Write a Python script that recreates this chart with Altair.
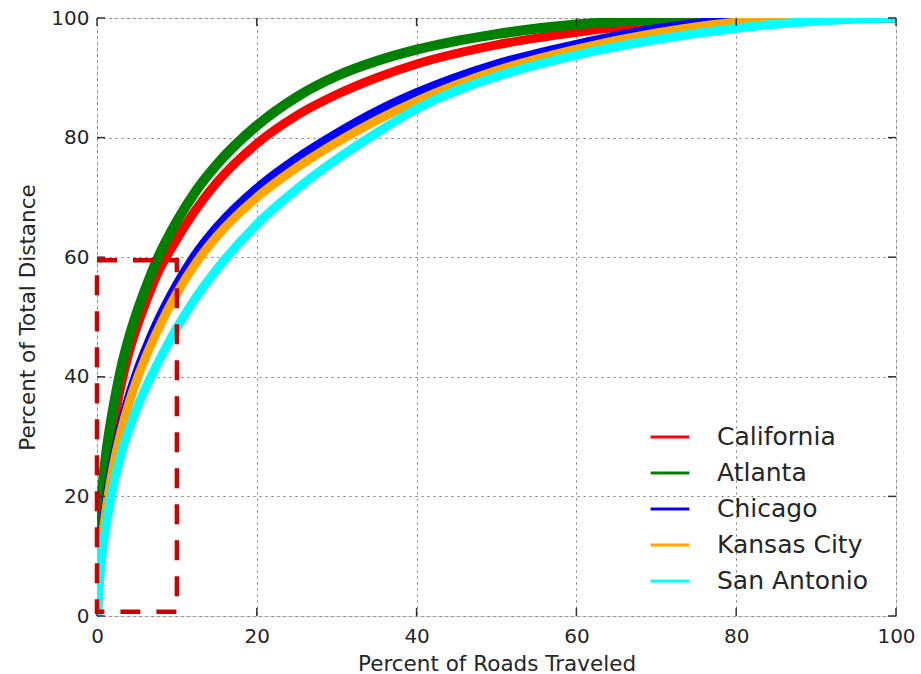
import altair as alt
import pandas as pd

# ---- data ----
x_vals = [0, 0.3, 0.6, 1, 1.5, 2, 3, 4, 5, 6, 7.5, 10, 12.5, 15, 20, 25, 30, 35, 40, 50, 60, 70, 80, 90, 100]
california = [0, 10, 17, 22.5, 27.5, 31.5, 38.5, 44, 48.3, 52, 57, 63, 68.2, 72.5, 79, 83.7, 87.2, 90, 92.3, 95.5, 97.6, 99.1, 99.8, 100, 100]
atlanta = [0, 12, 20, 25.5, 30.5, 34.5, 41.3, 46.5, 50.8, 54.5, 59.5, 66, 71.3, 75.5, 82, 86.8, 90.3, 92.8, 94.7, 97.3, 98.9, 99.7, 100, 100, 100]
chicago = [0, 7.5, 13, 17.5, 22, 25.8, 31.8, 36.7, 40.8, 44.3, 49, 55.5, 60.8, 65, 71.5, 76.5, 80.7, 84.4, 87.5, 92.3, 95.6, 98.2, 99.7, 100, 100]
kansas_city = [0, 6.5, 12, 16.5, 21, 24.8, 30.8, 35.6, 39.6, 43, 47.5, 54, 59.25, 63.5, 70, 75, 79.2, 82.9, 86.1, 91.2, 94.8, 97.5, 99.3, 99.9, 100]
san_antonio = [0, 5.5, 10, 14, 18, 21.5, 27, 31.2, 34.8, 37.9, 42, 48.2, 53.5, 58, 65.5, 71.4, 76.4, 80.8, 84.8, 90.2, 93.8, 96.4, 98.3, 99.5, 100]

series_names = ["California", "Atlanta", "Chicago", "Kansas City", "San Antonio"]
series_values = [california, atlanta, chicago, kansas_city, san_antonio]
series_colors = ["#ff0000", "#008000", "#0000ff", "#ffa500", "#00ffff"]
series_widths = [9, 10, 9, 9, 9]

tick_values = [0, 20, 40, 60, 80, 100]
box_x = [0, 10]
box_y = [0.7, 59.5]

W, H = 799, 598
FONT = "DejaVu Sans"

rows = []
for name, vals in zip(series_names, series_values):
    for xv, yv in zip(x_vals, vals):
        rows.append({"road": xv, "dist": yv, "city": name})
df = pd.DataFrame(rows)

xscale = alt.Scale(domain=[0, 100], nice=False, zero=False)
yscale = alt.Scale(domain=[0, 100], nice=False, zero=False)
color_scale = alt.Scale(domain=series_names, range=series_colors)

XT = "Percent of Roads Traveled"
YT = "Percent of Total Distance"

xaxis = alt.Axis(values=tick_values, title=XT, grid=True,
                 gridDash=[2, 4], gridColor="#777777", gridWidth=1,
                 domain=False, ticks=False, labelPadding=10, titlePadding=7,
                 labelFontSize=20, titleFontSize=21.5, labelFont=FONT, titleFont=FONT,
                 labelColor="#262626", titleColor="#262626", titleFontWeight="normal",
                 labelFlush=False)
yaxis = alt.Axis(values=tick_values, title=YT, grid=True,
                 gridDash=[2, 4], gridColor="#777777", gridWidth=1,
                 domain=False, ticks=False, labelPadding=8, titlePadding=11,
                 labelFontSize=20, titleFontSize=21.5, labelFont=FONT, titleFont=FONT,
                 labelColor="#262626", titleColor="#262626", titleFontWeight="normal",
                 labelFlush=False)
legend = alt.Legend(title=None, orient="none", legendX=552, legendY=398,
                    symbolType="stroke", symbolStrokeWidth=3,
                    symbolSize=1500, labelFontSize=25, labelFont=FONT,
                    labelColor="#262626", labelOffset=26, rowPadding=2)

layers = []
for name, w in zip(series_names, series_widths):
    layers.append(
        alt.Chart(df).transform_filter(alt.datum.city == name)
        .mark_line(strokeWidth=w, clip=True, interpolate="monotone", strokeCap="butt")
        .encode(
            x=alt.X("road:Q", scale=xscale, axis=xaxis, title=XT),
            y=alt.Y("dist:Q", scale=yscale, axis=yaxis, title=YT),
            color=alt.Color("city:N", scale=color_scale, sort=series_names, legend=legend),
        )
    )

tick_df = pd.DataFrame({"t": tick_values})
tk = dict(color="#333333", strokeWidth=1.5)
ticks_bottom = alt.Chart(tick_df).mark_rule(**tk).encode(
    x=alt.X("t:Q", scale=xscale, axis=xaxis, title=XT), y=alt.value(H), y2=alt.value(H - 8))
ticks_top = alt.Chart(tick_df).mark_rule(**tk).encode(
    x=alt.X("t:Q", scale=xscale, axis=xaxis, title=XT), y=alt.value(0), y2=alt.value(8))
ticks_left = alt.Chart(tick_df).mark_rule(**tk).encode(
    y=alt.Y("t:Q", scale=yscale, axis=yaxis, title=YT), x=alt.value(0), x2=alt.value(8))
ticks_right = alt.Chart(tick_df).mark_rule(**tk).encode(
    y=alt.Y("t:Q", scale=yscale, axis=yaxis, title=YT), x=alt.value(W), x2=alt.value(W - 8))

box_df = pd.DataFrame({"x0": [box_x[0]], "x1": [box_x[1]], "y0": [box_y[0]], "y1": [box_y[1]]})
box = alt.Chart(box_df).mark_rect(filled=False, stroke="#cc0000", strokeWidth=4.5,
                                  strokeDash=[20, 16]).encode(
    x=alt.X("x0:Q", scale=xscale, axis=xaxis, title=XT), x2="x1:Q",
    y=alt.Y("y0:Q", scale=yscale, axis=yaxis, title=YT), y2="y1:Q")

chart = alt.layer(*layers, ticks_bottom, ticks_top, ticks_left, ticks_right, box).properties(
    width=W, height=H,
    autosize=alt.AutoSizeParams(type="none"),
    padding={"left": 97, "top": 18, "right": 25, "bottom": 58},
).configure_view(stroke="#333333", strokeWidth=1.5).configure(background="white")

chart.save("out.html", embed_options={"renderer": "svg", "actions": False})
